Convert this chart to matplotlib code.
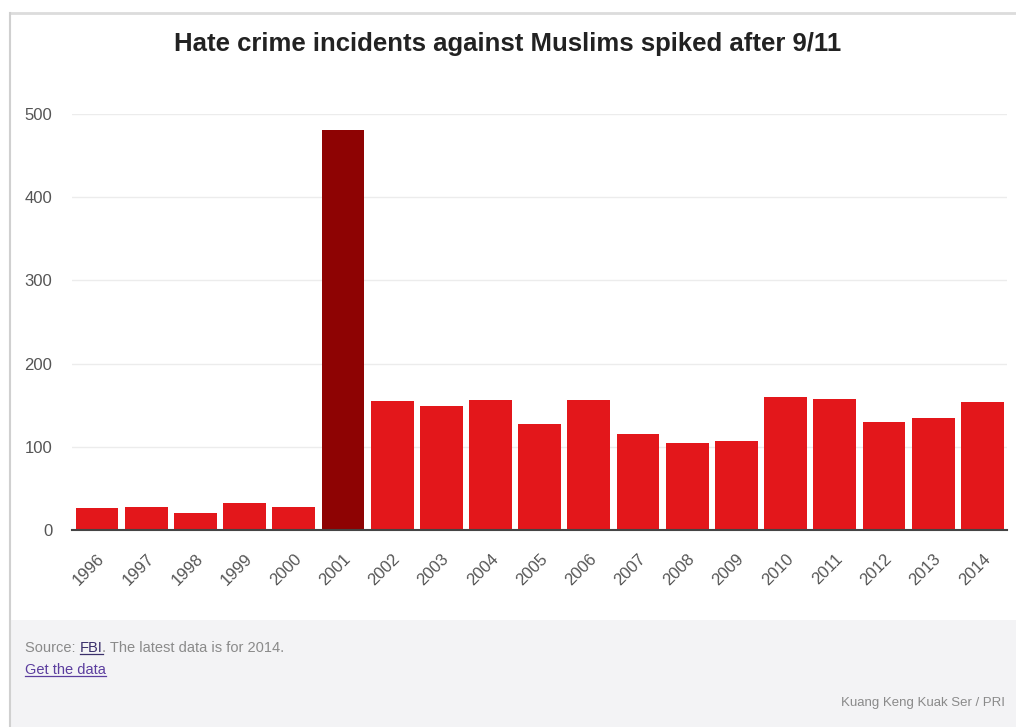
import numpy as np
import matplotlib.pyplot as plt
from matplotlib.lines import Line2D
from matplotlib.patches import Rectangle

# FBI hate crime incidents, anti-Islamic
years = ['1996', '1997', '1998', '1999', '2000', '2001', '2002', '2003', '2004', '2005',
         '2006', '2007', '2008', '2009', '2010', '2011', '2012', '2013', '2014']
incidents = [27, 28, 21, 32, 28, 481, 155, 149, 156, 128,
             156, 115, 105, 107, 160, 157, 130, 135, 154]
yticks = [0, 100, 200, 300, 400, 500]
highlight = '2001'

plt.rcParams['font.family'] = ['Liberation Sans', 'DejaVu Sans']

W, H = 1016, 727
fig = plt.figure(figsize=(W / 100, H / 100), dpi=100)
fig.patch.set_facecolor('white')

def fx(px):
    return px / W

def fy(py):
    return 1 - py / H

# footer band and frame lines
fig.add_artist(Rectangle((fx(10), 0), 1 - fx(10), fy(620), transform=fig.transFigure,
                         facecolor='#f3f3f5', edgecolor='none', zorder=0))
fig.add_artist(Line2D([fx(10), 1], [fy(13), fy(13)], color='#dcdcdc', lw=2, transform=fig.transFigure))
fig.add_artist(Line2D([fx(10), fx(10)], [0, fy(13)], color='#d0d0d0', lw=1.5, transform=fig.transFigure))

ax = fig.add_axes([fx(72.4), fy(530), fx(1007) - fx(72.4), fy(114) - fy(530)])
x = np.arange(len(years))
colors = ['#8e0303' if y == highlight else '#e3171b' for y in years]
ax.bar(x, incidents, width=0.87, color=colors, zorder=2)
ax.set_xlim(-0.5, len(years) - 0.5)
ax.set_ylim(0, 500)
ax.set_yticks(yticks)
ax.set_yticklabels([str(t) for t in yticks], color='#555555', fontsize=12)
ax.set_xticks(x)
ax.set_xticklabels(years, rotation=45, ha='right', rotation_mode='anchor',
                   color='#555555', fontsize=12)
ax.tick_params(axis='both', length=0)
ax.tick_params(axis='y', pad=14.5)
ax.tick_params(axis='x', pad=15)
ax.grid(axis='y', color='#ececec', lw=1, zorder=0)
ax.set_axisbelow(True)
for s in ['top', 'right', 'left']:
    ax.spines[s].set_visible(False)
ax.spines['bottom'].set_color('#444444')
ax.spines['bottom'].set_linewidth(1.5)
ax.spines['bottom'].set_zorder(3)
ax.set_facecolor('none')

fig.text(0.5, fy(44), 'Hate crime incidents against Muslims spiked after 9/11',
         ha='center', va='center', fontsize=18.5, fontweight='bold', color='#222222')

# footer texts
fig.canvas.draw()
r = fig.canvas.get_renderer()
inv = fig.transFigure.inverted()

def underline(t, color):
    bb = t.get_window_extent(r)
    (x0, y0), (x1, y1) = inv.transform([[bb.x0, bb.y0], [bb.x1, bb.y1]])
    fig.add_artist(Line2D([x0, x1], [y0 + 0.001, y0 + 0.001], color=color, lw=0.9,
                          transform=fig.transFigure))

fs = 10.5
t1 = fig.text(fx(25), fy(652), 'Source: ', fontsize=fs, color='#8a8a8a', va='baseline')
bb = t1.get_window_extent(r)
xa = inv.transform([[bb.x1, bb.y0]])[0][0]
t2 = fig.text(xa, fy(652), 'FBI', fontsize=fs, color='#3a2f6b', va='baseline')
underline(t2, '#3a2f6b')
bb = t2.get_window_extent(r)
xb = inv.transform([[bb.x1, bb.y0]])[0][0]
fig.text(xb, fy(652), '. The latest data is for 2014.', fontsize=fs, color='#8a8a8a', va='baseline')
t4 = fig.text(fx(25), fy(674), 'Get the data', fontsize=fs, color='#5b3d9e', va='baseline')
underline(t4, '#5b3d9e')
fig.text(fx(1005), fy(706), 'Kuang Keng Kuak Ser / PRI', fontsize=9.5, color='#8a8a8a',
         ha='right', va='baseline')

fig.savefig('out.png', dpi=100)
